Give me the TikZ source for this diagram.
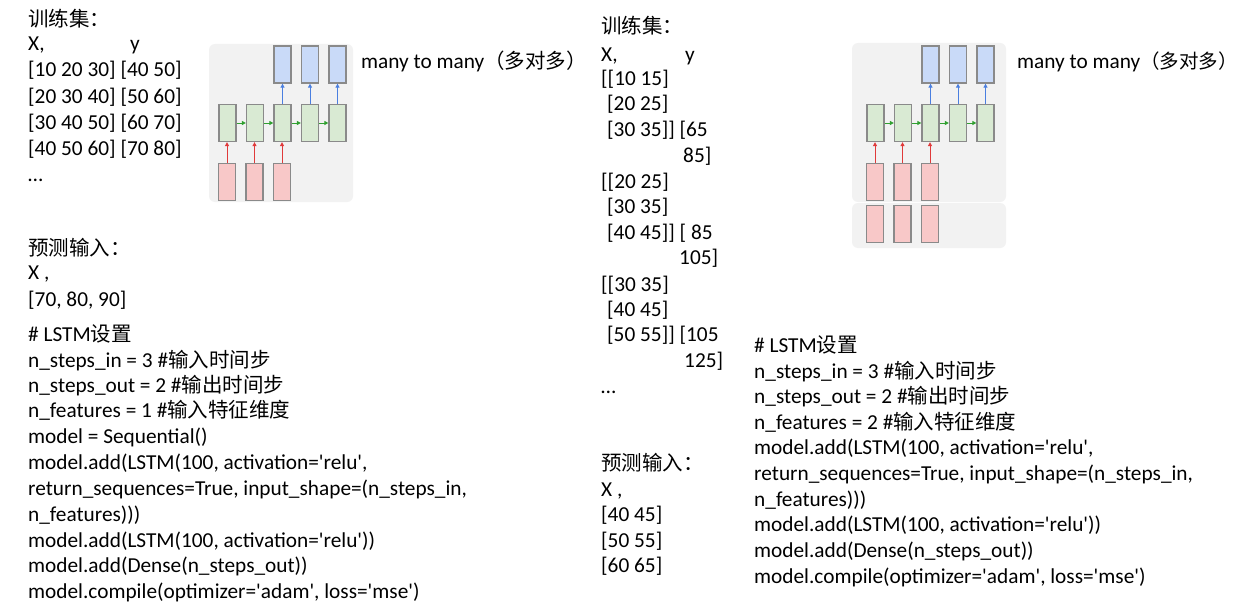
\documentclass[tikz,border=0pt]{standalone}
\usepackage{fontspec}
\setmainfont{Carlito}[Ligatures=TeXOff]
\newfontfamily\cjk{Noto Sans CJK SC}
\usetikzlibrary{arrows.meta}
\newcommand\zh[1]{{\cjk\fontsize{20.5}{22}\selectfont #1}}
\newcommand\zhs[1]{{\cjk\fontsize{19.5}{22}\selectfont #1}}
\definecolor{bgray}{HTML}{F2F2F2}
\definecolor{bfill}{HTML}{C9DAF8}
\definecolor{gfill}{HTML}{D9EAD3}
\definecolor{rfill}{HTML}{F8C8C8}
\definecolor{cellline}{HTML}{8A8A8A}
\definecolor{barr}{HTML}{4A7FE0}
\definecolor{garr}{HTML}{30A030}
\definecolor{rarr}{HTML}{E03A3A}
\tikzset{
  txt/.style={anchor=base west, inner sep=0pt, font=\fontsize{21.3}{24}\selectfont},
  cell/.style={draw=cellline, line width=1.3pt, minimum width=17pt, minimum height=37pt, inner sep=0pt},
  bcell/.style={cell, fill=bfill},
  gcell/.style={cell, fill=gfill},
  rcell/.style={cell, fill=rfill},
  upb/.style={draw=barr, line width=1pt, -{Triangle[length=4pt,width=4pt]}},
  upr/.style={draw=rarr, line width=1pt, -{Triangle[length=4pt,width=4pt]}},
  rg/.style={draw=garr, line width=1pt, -{Triangle[length=4pt,width=4pt]}},
  panel/.style={fill=bgray, draw=none, rounded corners=6pt}
}
\begin{document}
\begin{tikzpicture}[x=1pt,y=-1pt]
\useasboundingbox (0,0) rectangle (1238,602);
\fill[white] (0,0) rectangle (1238,602);

% ---------- left text ----------
\node[txt] (a1) at (28,27) {\zh{训练集：}};
\node[txt] (a2) at (28,51) {\makebox[102pt][l]{X,}y};
\node[txt] (a3) at (28,77) {[10 20 30] [40 50]};
\node[txt] (a4) at (28,103) {[20 30 40] [50 60]};
\node[txt] (a5) at (28,129) {[30 40 50] [60 70]};
\node[txt] (a6) at (28,155) {[40 50 60] [70 80]};
\node[txt] (a7) at (28,181) {…};
\node[txt] (a8) at (28,255) {\zh{预测输入：}};
\node[txt] (a9) at (28,279) {X ,};
\node[txt] (a10) at (28,306) {[70, 80, 90]};
\node[txt] (c1) at (28,341) {\# LSTM\zh{设置}};
\node[txt] (c2) at (28,367) {n\_steps\_in = 3 \#\zh{输入时间步}};
\node[txt] (c3) at (28,392) {n\_steps\_out = 2 \#\zh{输出时间步}};
\node[txt] (c4) at (28,417) {n\_features = 1 \#\zh{输入特征维度}};
\node[txt] (c5) at (28,443) {model = Sequential()};
\node[txt] (c6) at (28,469) {model.add(LSTM(100, activation='relu',};
\node[txt] (c7) at (28,495) {return\_sequences=True, input\_shape=(n\_steps\_in,};
\node[txt] (c8) at (28,521) {n\_features)))};
\node[txt] (c9) at (28,547) {model.add(LSTM(100, activation='relu'))};
\node[txt] (c10) at (28,572) {model.add(Dense(n\_steps\_out))};
\node[txt] (c11) at (28,598) {model.compile(optimizer='adam', loss='mse')};

\node[txt] (m1) at (361,68) {many to many\zh{（多对多\makebox[0.42em][l]{）}}};
\node[txt] (m2) at (1017,68) {many to many\zhs{（多对多\makebox[0.42em][l]{）}}};

% ---------- right text ----------
\node[txt] (b1) at (601,34) {\zh{训练集：}};
\node[txt] (b2) at (601,61) {\makebox[84pt][l]{X,}y};
\node[txt] (b3) at (601,85) {[[10 15]};
\node[txt] (b4) at (607,110) {[20 25]};
\node[txt] (b5) at (607,136) {[30 35]] [65};
\node[txt] (b6) at (683,162) {85]};
\node[txt] (b7) at (601,188) {[[20 25]};
\node[txt] (b8) at (607,213) {[30 35]};
\node[txt] (b9) at (607,239) {[40 45]] [ 85};
\node[txt] (b10) at (679,264) {105]};
\node[txt] (b11) at (601,291) {[[30 35]};
\node[txt] (b12) at (607,316) {[40 45]};
\node[txt] (b13) at (607,341) {[50 55]] [105};
\node[txt] (b14) at (684,367) {125]};
\node[txt] (b15) at (601,393) {…};
\node[txt] (b16) at (601,470) {\zh{预测输入：}};
\node[txt] (b17) at (601,496) {X ,};
\node[txt] (b18) at (601,521) {[40 45]};
\node[txt] (b19) at (601,547) {[50 55]};
\node[txt] (b20) at (601,572) {[60 65]};

\node[txt] (d1) at (754,352) {\# LSTM\zh{设置}};
\node[txt] (d2) at (754,378) {n\_steps\_in = 3 \#\zh{输入时间步}};
\node[txt] (d3) at (754,403) {n\_steps\_out = 2 \#\zh{输出时间步}};
\node[txt] (d4) at (754,429) {n\_features = 2 \#\zh{输入特征维度}};
\node[txt] (d5) at (754,454) {model.add(LSTM(100, activation='relu',};
\node[txt] (d6) at (754,480) {return\_sequences=True, input\_shape=(n\_steps\_in,};
\node[txt] (d7) at (754,506) {n\_features)))};
\node[txt] (d8) at (754,531) {model.add(LSTM(100, activation='relu'))};
\node[txt] (d9) at (754,557) {model.add(Dense(n\_steps\_out))};
\node[txt] (d10) at (754,583) {model.compile(optimizer='adam', loss='mse')};

% ---------- left diagram ----------
\path[panel] (209,44) rectangle (353,202);
\foreach \i/\x in {1/227.5,2/255,3/282.5,4/310,5/337.5}
  \node[gcell] (lg\i) at (\x,123) {};
\foreach \i/\x in {3/282.5,4/310,5/337.5}
  \node[bcell] (lb\i) at (\x,64.5) {};
\foreach \i/\x in {1/227,2/254.5,3/282}
  \node[rcell] (lr\i) at (\x,182) {};
\foreach \i in {3,4,5} \draw[upb] (lg\i.north) -- (lb\i.south);
\foreach \i in {1,2,3} \draw[upr] (lr\i.north) -- (lr\i.north |- lg\i.south);
\foreach \i/\j in {1/2,2/3,3/4,4/5} \draw[rg] (lg\i.east) -- (lg\j.west);

% ---------- right diagram ----------
\path[panel] (852,43) rectangle (1006,202);
\path[panel] (852,203) rectangle (1006,248);
\foreach \i/\x in {1/875.5,2/903,3/930.5,4/958,5/985.5}
  \node[gcell] (rg\i) at (\x,123) {};
\foreach \i/\x in {3/930.5,4/958,5/985.5}
  \node[bcell] (rb\i) at (\x,64.5) {};
\foreach \i/\x in {1/875,2/902.5,3/930}
  \node[rcell] (rr\i) at (\x,182) {};
\foreach \i/\x in {1/875,2/902.5,3/930}
  \node[rcell] (rs\i) at (\x,224) {};
\foreach \i in {3,4,5} \draw[upb] (rg\i.north) -- (rb\i.south);
\foreach \i in {1,2,3} \draw[upr] (rr\i.north) -- (rr\i.north |- rg\i.south);
\foreach \i/\j in {1/2,2/3,3/4,4/5} \draw[rg] (rg\i.east) -- (rg\j.west);
\end{tikzpicture}
\end{document}
